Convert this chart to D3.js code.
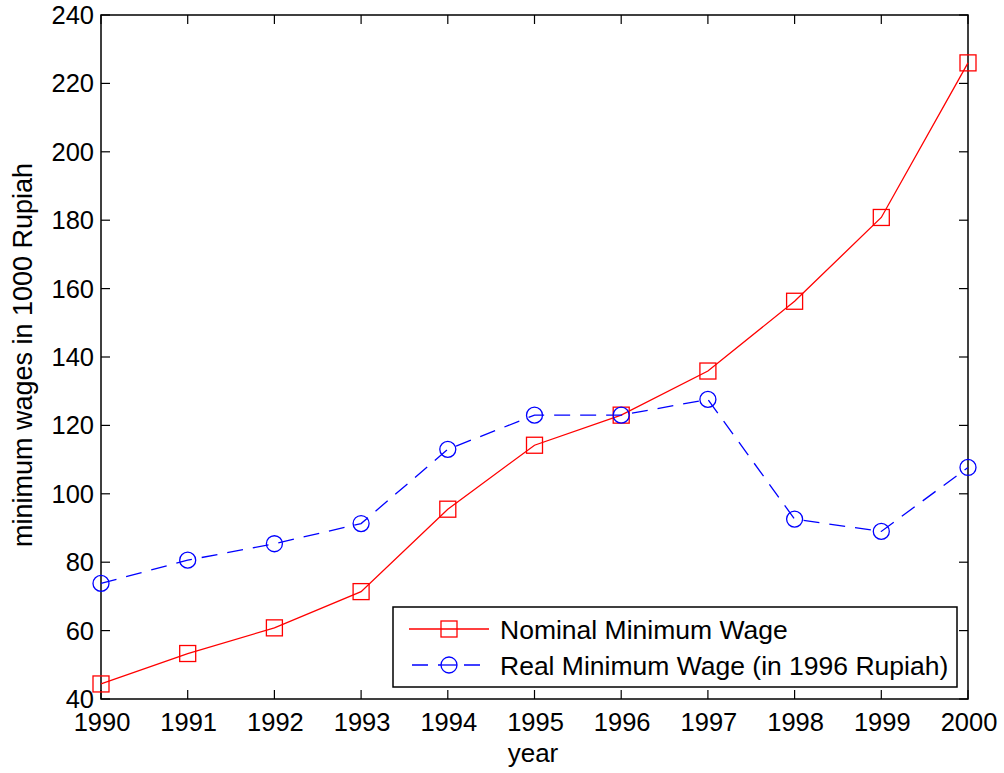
<!DOCTYPE html>
<html>
<head>
<meta charset="utf-8">
<script src="https://cdn.jsdelivr.net/npm/d3@7/dist/d3.min.js"></script>
<style>
  body { margin: 0; background: #fff; }
  text { font-family: "Liberation Sans", Arial, sans-serif; fill: #000; }
</style>
</head>
<body>
<div id="chart"></div>
<script>
"use strict";
// data
var years = [1990, 1991, 1992, 1993, 1994, 1995, 1996, 1997, 1998, 1999, 2000];
var nominal = [44.4, 53.3, 60.8, 71.4, 95.5, 114.2, 123.0, 135.9, 156.3, 180.8, 226.0];
var real = [73.8, 80.6, 85.4, 91.3, 113.0, 123.0, 123.0, 127.6, 92.6, 89.0, 107.7];
var yTicks = [40, 60, 80, 100, 120, 140, 160, 180, 200, 220, 240];
var legendLabels = ["Nominal Minimum Wage", "Real Minimum Wage (in 1996 Rupiah)"];

var w = 1004, h = 773;
//plot box edges (names avoid window.top clash)
var pLeft = 101, pRight = 968, pTop = 15, pBottom = 699;
var tickLen = 9;
var tickFont = 25.5;

var svg = d3.select("#chart").append("svg")
  .attr("width", w)
  .attr("height", h);

var x = d3.scaleLinear().domain([1990, 2000]).range([pLeft, pRight]);
var y = d3.scaleLinear().domain([40, 240]).range([pBottom, pTop]);

//inward ticks on all four sides, like matlab box
var g = svg.append("g");
years.forEach(function(yr) {
  g.append("line").attr("x1", x(yr)).attr("x2", x(yr))
    .attr("y1", pBottom).attr("y2", pBottom - tickLen)
    .attr("stroke", "#000").attr("stroke-width", 1.2);
  g.append("line").attr("x1", x(yr)).attr("x2", x(yr))
    .attr("y1", pTop).attr("y2", pTop + tickLen)
    .attr("stroke", "#000").attr("stroke-width", 1.2);
  g.append("text").attr("x", x(yr) + 1).attr("y", 731)
    .attr("text-anchor", "middle").attr("font-size", tickFont).text(yr);
});
yTicks.forEach(function(v) {
  g.append("line").attr("x1", pLeft).attr("x2", pLeft + tickLen)
    .attr("y1", y(v)).attr("y2", y(v))
    .attr("stroke", "#000").attr("stroke-width", 1.2);
  g.append("line").attr("x1", pRight).attr("x2", pRight - tickLen)
    .attr("y1", y(v)).attr("y2", y(v))
    .attr("stroke", "#000").attr("stroke-width", 1.2);
  g.append("text").attr("x", pLeft - 7).attr("y", y(v) + 9)
    .attr("text-anchor", "end").attr("font-size", tickFont).text(v);
});

svg.append("rect")
  .attr("x", pLeft).attr("y", pTop)
  .attr("width", pRight - pLeft).attr("height", pBottom - pTop)
  .attr("fill", "none").attr("stroke", "#000").attr("stroke-width", 1.5);

//axis titles
svg.append("text").attr("x", 533).attr("y", 762)
  .attr("text-anchor", "middle").attr("font-size", 26).text("year");
svg.append("text")
  .attr("transform", "translate(32,355) rotate(-90)")
  .attr("text-anchor", "middle").attr("font-size", 27)
  .text("minimum wages in 1000 Rupiah");

var line = d3.line()
  .x(function(d) { return x(d[0]); })
  .y(function(d) { return y(d[1]); });

var nomPts = d3.zip(years, nominal);
var realPts = d3.zip(years, real);

svg.append("path").datum(nomPts).attr("d", line)
  .attr("fill", "none").attr("stroke", "#ff0000").attr("stroke-width", 1.3);
svg.append("path").datum(realPts).attr("d", line)
  .attr("fill", "none").attr("stroke", "#0000ff").attr("stroke-width", 1.3)
  .attr("stroke-dasharray", "16,10");

var sq = 16, rc = 8;
svg.append("g").selectAll("rect").data(nomPts).enter().append("rect")
  .attr("x", function(d) { return x(d[0]) - sq / 2; })
  .attr("y", function(d) { return y(d[1]) - sq / 2; })
  .attr("width", sq).attr("height", sq)
  .attr("fill", "none").attr("stroke", "#ff0000").attr("stroke-width", 1.3);
svg.append("g").selectAll("circle").data(realPts).enter().append("circle")
  .attr("cx", function(d) { return x(d[0]); })
  .attr("cy", function(d) { return y(d[1]); })
  .attr("r", rc)
  .attr("fill", "none").attr("stroke", "#0000ff").attr("stroke-width", 1.3);

//legend
var lg = svg.append("g");
lg.append("rect").attr("x", 393).attr("y", 607).attr("width", 564).attr("height", 80)
  .attr("fill", "#fff").attr("stroke", "#000").attr("stroke-width", 1.5);
var rowY = [629, 665];
lg.append("line").attr("x1", 409).attr("x2", 489).attr("y1", rowY[0]).attr("y2", rowY[0])
  .attr("stroke", "#ff0000").attr("stroke-width", 1.3);
lg.append("rect").attr("x", 449 - sq / 2).attr("y", rowY[0] - sq / 2)
  .attr("width", sq).attr("height", sq)
  .attr("fill", "none").attr("stroke", "#ff0000").attr("stroke-width", 1.3);
lg.append("line").attr("x1", 409).attr("x2", 489).attr("y1", rowY[1]).attr("y2", rowY[1])
  .attr("stroke", "#0000ff").attr("stroke-width", 1.3)
  .attr("stroke-dasharray", "16,10").attr("stroke-dashoffset", -3);
lg.append("circle").attr("cx", 449).attr("cy", rowY[1]).attr("r", rc)
  .attr("fill", "#fff").attr("stroke", "#0000ff").attr("stroke-width", 1.3);
lg.append("line").attr("x1", 441).attr("x2", 457).attr("y1", rowY[1]).attr("y2", rowY[1])
  .attr("stroke", "#0000ff").attr("stroke-width", 1.3);
legendLabels.forEach(function(t, i) {
  lg.append("text").attr("x", 500).attr("y", rowY[i] + 10)
    .attr("font-size", 26.5).text(t);
});
</script>
</body>
</html>
